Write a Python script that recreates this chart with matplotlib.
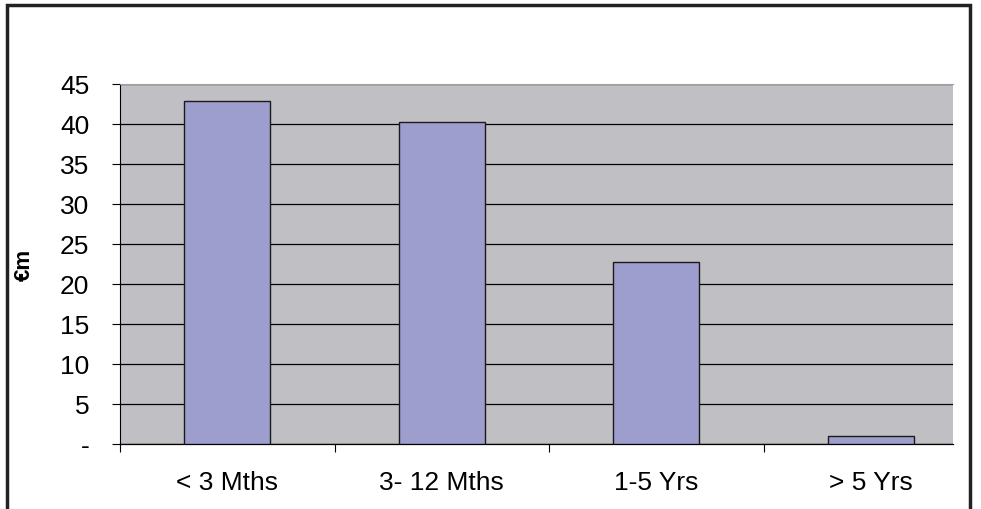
import matplotlib.pyplot as plt
from matplotlib.patches import Rectangle

# Chart data
categories = ["< 3 Mths", "3- 12 Mths", "1-5 Yrs", "> 5 Yrs"]
values = [42.9, 40.3, 22.8, 1.0]
yticks = [0, 5, 10, 15, 20, 25, 30, 35, 40, 45]
ytick_labels = ["-", "5", "10", "15", "20", "25", "30", "35", "40", "45"]

plt.rcParams['font.family'] = ['Liberation Sans', 'DejaVu Sans']

W, H = 981, 510
fig = plt.figure(figsize=(W / 100, H / 100), dpi=100)

# plot area in pixels: left 120, right 953, top 85, bottom 445
ax = fig.add_axes([120 / W, 1 - 445 / H, (953 - 120) / W, (445 - 85) / H])
ax.set_facecolor("#C0C0C4")

x = range(len(categories))
ax.bar(x, values, width=0.40, color="#9E9ECE", edgecolor="#1a1a1a", linewidth=1, zorder=3)

# the last category runs past the right edge of the grey area (as in the original)
ax.set_xlim(-0.5, -0.5 + 833 / 214.5)
ax.set_ylim(0, 45)
ax.set_yticks(yticks)
ax.set_yticklabels(ytick_labels, fontsize=19)
ax.yaxis.grid(True, color="black", linewidth=0.9, zorder=1)
ax.set_axisbelow(True)

# category labels centred, tick marks on category boundaries
ax.set_xticks(list(x))
ax.set_xticklabels(categories, fontsize=19)
ax.tick_params(axis="x", length=0, pad=19)
ax.set_xticks([i - 0.5 for i in range(len(categories))], minor=True)
ax.tick_params(axis="x", which="minor", length=6, width=0.8, direction="out")
ax.tick_params(axis="y", length=6, width=0.8, pad=16)

ax.spines["top"].set_color("#A0A0A0")
ax.spines["right"].set_visible(False)
ax.spines["left"].set_linewidth(0.8)
ax.spines["bottom"].set_linewidth(0.9)

fig.text(24 / W, 1 - 265 / H, "€m", rotation=90, fontsize=16, fontweight="bold",
         ha="center", va="center")

# outer frame
fig.patches.append(Rectangle((7 / W, -0.05), (970 - 7) / W, 1 - 6 / H + 0.05,
                             transform=fig.transFigure, fill=False,
                             edgecolor="#222222", linewidth=2.5))

fig.savefig("out.png", dpi=100)
